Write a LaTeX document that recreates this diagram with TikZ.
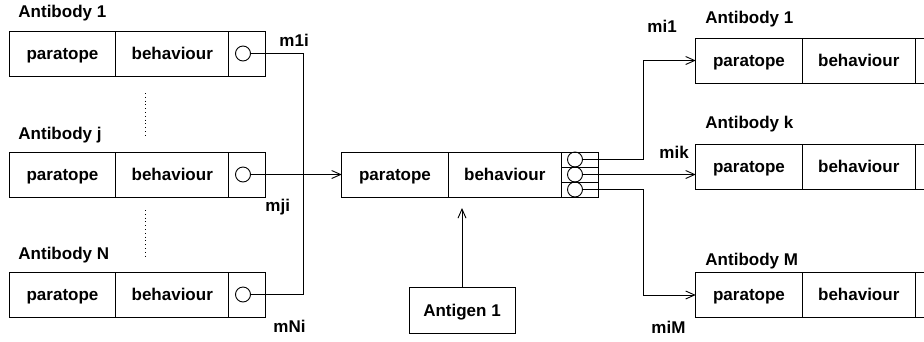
\documentclass[tikz,border=0pt]{standalone}
\usepackage{fontspec}
\setmainfont{Liberation Sans}
\usetikzlibrary{arrows.meta,calc}
\newcommand\lblfont{\fontsize{17}{20}\selectfont\bfseries}
\begin{document}
\begin{tikzpicture}[x=1pt,y=-1pt,
  line width=0.9pt,
  every node/.style={font=\lblfont},
  cell/.style={draw, rectangle, inner sep=0pt, outer sep=0pt, minimum height=45pt,
               text height=12.5pt, text depth=0pt},
  paracell/.style={cell, minimum width=106.5pt},
  behcell/.style={cell, minimum width=113pt},
  portcell/.style={cell, minimum width=37pt},
  ring/.style={draw, circle, inner sep=0pt, outer sep=0pt, minimum size=15pt},
  title/.style={anchor=base west, inner sep=0pt},
  tag/.style={anchor=base west, inner sep=0pt},
  arr/.style={-{Straight Barb[length=9pt,width=8pt]}},
  dotline/.style={line width=0.8pt, dash pattern=on 0.8pt off 3pt}
]
\useasboundingbox (0,0) rectangle (924,341);

% ---- sending antibodies (left column) ----
\node[paracell] (l1p) at (62.5,53.5) {paratope};
\node[behcell, anchor=west] (l1b) at (l1p.east) {behaviour};
\node[portcell, anchor=west] (l1o) at (l1b.east) {};
\node[ring] (l1c) at (243,53.5) {};
\node[title] (l1t) at (18,17) {Antibody 1};

\node[paracell] (ljp) at (62.5,174.5) {paratope};
\node[behcell, anchor=west] (ljb) at (ljp.east) {behaviour};
\node[portcell, anchor=west] (ljo) at (ljb.east) {};
\node[ring] (ljc) at (243,174.5) {};
\node[title] (ljt) at (18,139) {Antibody j};

\node[paracell] (lNp) at (62.5,294.5) {paratope};
\node[behcell, anchor=west] (lNb) at (lNp.east) {behaviour};
\node[portcell, anchor=west] (lNo) at (lNb.east) {};
\node[ring] (lNc) at (243,294.5) {};
\node[title] (lNt) at (18,259) {Antibody N};

% elided antibodies
\draw[dotline] (145,93) -- (145,137);
\draw[dotline] (145,210) -- (145,258);

% ---- receiving antibody (centre) ----
\node[paracell] (cp) at (395,174.5) {paratope};
\node[behcell, anchor=west] (cb) at (cp.east) {behaviour};
\node[portcell, anchor=west] (co) at (cb.east) {};
\draw (co.west |- 0,167) -- (co.east |- 0,167);
\draw (co.west |- 0,182) -- (co.east |- 0,182);
\node[ring] (cc1) at (575,159.5) {};
\node[ring] (cc2) at (575,174.5) {};
\node[ring] (cc3) at (575,189.5) {};

% ---- antigen ----
\node[cell, minimum width=106pt, minimum height=46pt] (ag) at (462,310) {Antigen 1};
\coordinate (agtip) at (462,208);
\draw[arr] (ag.north) -- (agtip);

% ---- stimulated antibodies (right column) ----
\node[paracell] (r1p) at (749,60.5) {paratope};
\node[behcell, anchor=west] (r1b) at (r1p.east) {behaviour};
\node[portcell, anchor=west] (r1o) at (r1b.east) {};
\node[title] (r1t) at (705,23) {Antibody 1};

\node[paracell] (rkp) at (749,166.5) {paratope};
\node[behcell, anchor=west] (rkb) at (rkp.east) {behaviour};
\node[portcell, anchor=west] (rko) at (rkb.east) {};
\node[title] (rkt) at (705,128) {Antibody k};

\node[paracell] (rMp) at (749,294.5) {paratope};
\node[behcell, anchor=west] (rMb) at (rMp.east) {behaviour};
\node[portcell, anchor=west] (rMo) at (rMb.east) {};
\node[title] (rMt) at (705,265) {Antibody M};

% ---- incoming links ----
\coordinate (xl) at (303,0);
\draw (l1c.east) -- (l1c.east -| xl) -- (lNc.east -| xl) -- (lNc.east);
\draw[arr] (ljc.east) -- (cp.west);

% ---- outgoing links ----
\coordinate (xr) at (643,0);
\draw[arr] (cc1.east) -- (cc1.east -| xr) |- (r1p.west);
\draw[arr] (cc2.east) -- (cc2.east -| rkp.west);
\draw[arr] (cc3.east) -- (cc3.east -| xr) |- (rMp.west |- 0,295);

% ---- link labels ----
\node[tag] (m1i) at (279,46) {m1i};
\node[tag] (mji) at (265,211) {mji};
\node[tag] (mNi) at (273,332) {mNi};
\node[tag] (mi1) at (647,32) {mi1};
\node[tag] (mik) at (659,158) {mik};
\node[tag] (miM) at (651,333) {miM};
\end{tikzpicture}
\end{document}
